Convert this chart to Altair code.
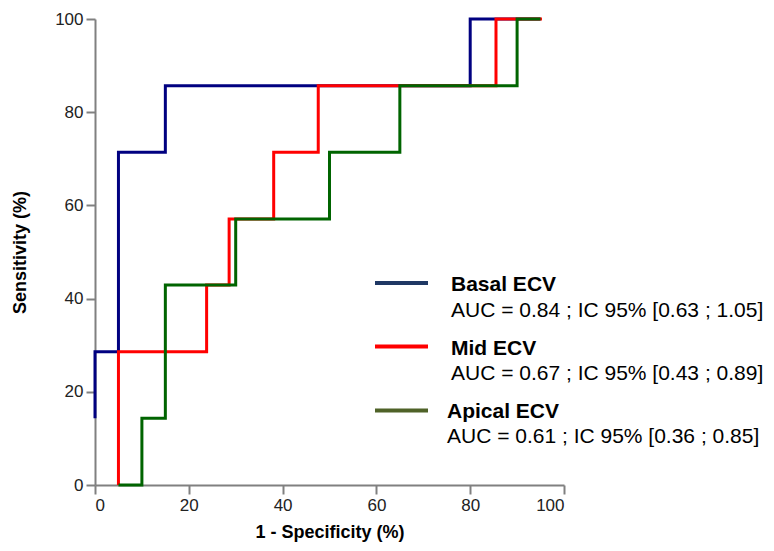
import altair as alt
import pandas as pd

# ---- data (ROC step curves, % units) ----
series = ["Basal ECV", "Mid ECV", "Apical ECV"]

basal_fpr = [0, 0, 5, 5, 15, 15, 80, 80, 95]
basal_sens = [14.3, 28.6, 28.6, 71.4, 71.4, 85.7, 85.7, 100, 100]

mid_fpr = [5, 5, 23.8, 23.8, 28.6, 28.6, 38.1, 38.1, 47.6, 47.6, 85.5, 85.5, 95.3]
mid_sens = [0, 28.6, 28.6, 42.9, 42.9, 57.1, 57.1, 71.4, 71.4, 85.7, 85.7, 100, 100]

apical_fpr = [5, 10, 10, 15, 15, 30, 30, 50, 50, 65, 65, 90, 90, 95]
apical_sens = [0, 0, 14.3, 14.3, 42.9, 42.9, 57.1, 57.1, 71.4, 71.4, 85.7, 85.7, 100, 100]

auc_labels = [
    "AUC = 0.84 ; IC 95% [0.63 ; 1.05]",
    "AUC = 0.67 ; IC 95% [0.43 ; 0.89]",
    "AUC = 0.61 ; IC 95% [0.36 ; 0.85]",
]
tick_values = [0, 20, 40, 60, 80, 100]

# ---- styles ----
line_colors = ["#000080", "#FF0000", "#006400"]
legend_colors = ["#1F3864", "#FF0000", "#4F6228"]
FONT = "Liberation Sans"

rows = []
for name, xs, ys in zip(series, [basal_fpr, mid_fpr, apical_fpr],
                        [basal_sens, mid_sens, apical_sens]):
    for i, (x, y) in enumerate(zip(xs, ys)):
        rows.append({"series": name, "fpr": x, "sens": y, "order": i})
df = pd.DataFrame(rows)

axis_style = dict(
    values=tick_values, grid=False,
    domainColor="#808080", domainWidth=2,
    tickColor="#808080", tickWidth=2, tickSize=9,
    labelFont=FONT, labelFontSize=17, labelColor="#222222", labelPadding=3,
    titleFont=FONT, titleFontSize=18, titleFontWeight="bold", titleColor="#000000",
)

x_enc = alt.X("fpr:Q", scale=alt.Scale(domain=[0, 100], nice=False),
              axis=alt.Axis(title="1 - Specificity (%)", titlePadding=10, **axis_style))
y_enc = alt.Y("sens:Q", scale=alt.Scale(domain=[0, 100], nice=False),
              axis=alt.Axis(title="Sensitivity (%)", titlePadding=25, **axis_style))

layers = []
for name, col in zip(series, line_colors):
    layers.append(
        alt.Chart(df).transform_filter(alt.datum.series == name)
        .mark_line(strokeWidth=3, color=col, strokeJoin="miter", clip=False)
        .encode(x=x_enc, y=y_enc, order="order:Q")
    )

# ---- hand-built legend (pixel positions inside the plot area) ----
leg_line_y = [264, 327.5, 391.5]
leg_text_x = [356, 356, 352]
leg_title_y = [271.7, 335.5, 399.3]
leg_auc_y = [297.7, 361, 424.3]

for i, name in enumerate(series):
    ldf = pd.DataFrame({"name": [name], "auc": [auc_labels[i]]})
    layers.append(
        alt.Chart(ldf).mark_rule(strokeWidth=4, color=legend_colors[i])
        .encode(x=alt.value(280), x2=alt.value(333), y=alt.value(leg_line_y[i]))
    )
    layers.append(
        alt.Chart(ldf).mark_text(align="left", baseline="alphabetic", font=FONT,
                                 fontSize=21, fontWeight="bold", color="#000000")
        .encode(x=alt.value(leg_text_x[i]), y=alt.value(leg_title_y[i]), text="name:N")
    )
    layers.append(
        alt.Chart(ldf).mark_text(align="left", baseline="alphabetic", font=FONT,
                                 fontSize=21, color="#000000")
        .encode(x=alt.value(leg_text_x[i]), y=alt.value(leg_auc_y[i]), text="auc:N")
    )

chart = alt.layer(*layers).properties(
    width=469, height=466,
    padding={"left": 87, "top": 11, "right": 202, "bottom": 58},
    autosize="none",
).configure_view(stroke=None)

chart.save("out.html", embed_options={"renderer": "svg", "actions": False})
